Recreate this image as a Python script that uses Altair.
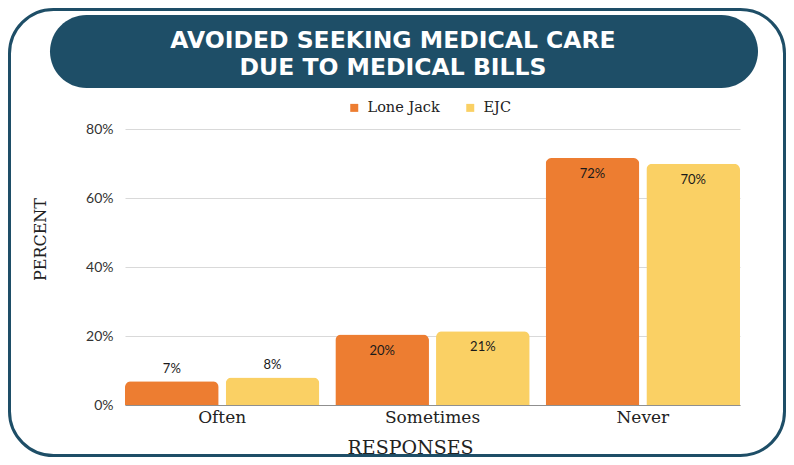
import altair as alt
import pandas as pd

CATEGORIES = ["Often", "Sometimes", "Never"]
SERIES = ["Lone Jack", "EJC"]
LONE_JACK = [6.9, 20.4, 71.6]
EJC = [8.0, 21.4, 69.9]
Y_TICKS = [0, 20, 40, 60, 80]
TITLE_LINES = ["AVOIDED SEEKING MEDICAL CARE", "DUE TO MEDICAL BILLS"]
X_TITLE = "RESPONSES"
Y_TITLE = "PERCENT"
COLORS = ["#ED7D31", "#FAD064"]
NAVY = "#1E4E67"

rows = []
for i, c in enumerate(CATEGORIES):
    rows.append({"Response": c, "Series": SERIES[0], "Value": LONE_JACK[i]})
    rows.append({"Response": c, "Series": SERIES[1], "Value": EJC[i]})
df = pd.DataFrame(rows)
df["Label"] = df["Value"].round().astype(int).astype(str) + "%"

one = pd.DataFrame({"k": [0]})

x_enc = alt.X(
    "Response:N",
    sort=CATEGORIES,
    scale=alt.Scale(paddingInner=0.076, paddingOuter=0),
    axis=alt.Axis(
        title=X_TITLE,
        labelAngle=0,
        labelFont="DejaVu Serif",
        labelFontSize=17,
        labelColor="#222222",
        labelPadding=4,
        ticks=False,
        tickSize=0,
        domainColor="#8f8f8f",
        domainWidth=1,
        grid=False,
        titleFont="DejaVu Serif",
        titleFontSize=19,
        titleFontWeight="normal",
        titleColor="#222222",
        titleX=285,
        titleY=48,
        titleAlign="center",
        titleBaseline="alphabetic",
    ),
)
xoff_enc = alt.XOffset("Series:N", sort=SERIES, scale=alt.Scale(paddingInner=0.07, paddingOuter=0))
y_enc = alt.Y(
    "Value:Q",
    scale=alt.Scale(domain=[0, 80], nice=False),
    axis=alt.Axis(
        title=Y_TITLE,
        values=Y_TICKS,
        format="d",
        labelExpr="datum.label + '%'",
        labelFont="Lato",
        labelFontSize=14,
        labelColor="#333333",
        labelPadding=12,
        ticks=False,
        domain=False,
        grid=True,
        gridColor="#D9D9D9",
        gridWidth=1,
        titleFont="DejaVu Serif",
        titleFontSize=16,
        titleFontWeight="normal",
        titleColor="#222222",
        titleAngle=270,
        titleX=-80,
        titleY=110,
        titleAlign="center",
        titleBaseline="alphabetic",
    ),
)

border = alt.Chart(one).mark_rect(
    fillOpacity=0, stroke=NAVY, strokeWidth=3, cornerRadius=44
).encode(x=alt.value(-115.5), x2=alt.value(659.5), y=alt.value(-119.5), y2=alt.value(326.5))

banner = alt.Chart(one).mark_rect(fill=NAVY, cornerRadius=36.5).encode(
    x=alt.value(-75), x2=alt.value(633), y=alt.value(-114), y2=alt.value(-41)
)

title = alt.Chart(one).mark_text(
    text=TITLE_LINES,
    font="DejaVu Sans",
    fontWeight="bold",
    fontSize=23.5,
    color="white",
    align="center",
    baseline="alphabetic",
    lineHeight=27,
).encode(x=alt.value(268), y=alt.value(-81))

bars = alt.Chart(df).mark_bar(cornerRadiusTopLeft=6, cornerRadiusTopRight=6).encode(
    x=x_enc,
    xOffset=xoff_enc,
    y=y_enc,
    color=alt.Color(
        "Series:N",
        sort=SERIES,
        scale=alt.Scale(domain=SERIES, range=COLORS),
        legend=alt.Legend(
            title=None,
            orient="none",
            legendX=222,
            legendY=-28.5,
            direction="horizontal",
            symbolType="square",
            symbolSize=64,
            symbolStrokeWidth=0,
            labelFont="DejaVu Serif",
            labelFontSize=14.5,
            labelColor="#222222",
            labelOffset=6,
            columnPadding=23,
            padding=0,
        ),
    ),
)

txt_common = dict(font="Lato", fontSize=13, color="#1a1a1a", baseline="alphabetic", align="center")
above = alt.Chart(df).mark_text(dy=-8, **txt_common).encode(
    x=alt.X("Response:N", sort=CATEGORIES), xOffset=alt.XOffset("Series:N", sort=SERIES), y="Value:Q", text="Label:N"
).transform_filter("datum.Value < 15")
inside = alt.Chart(df).mark_text(dy=20, **txt_common).encode(
    x=alt.X("Response:N", sort=CATEGORIES), xOffset=alt.XOffset("Series:N", sort=SERIES), y="Value:Q", text="Label:N"
).transform_filter("datum.Value >= 15")

chart = alt.layer(border, banner, title, bars, above, inside).properties(
    width=615,
    height=276,
    autosize=alt.AutoSizeParams(type="none"),
    padding={"left": 117, "top": 121, "right": 46, "bottom": 52},
    background="white",
).configure_view(stroke=None)

chart.save("out.html", embed_options={"renderer": "svg", "actions": False})
